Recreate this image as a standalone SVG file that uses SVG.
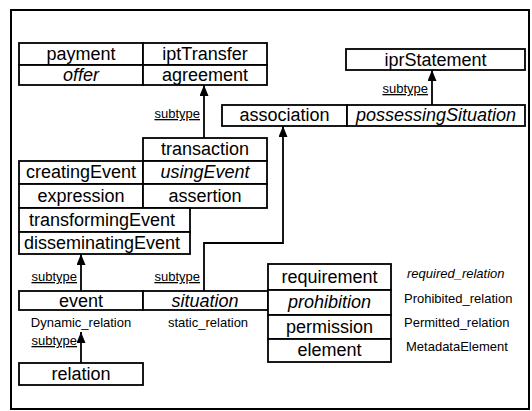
<svg xmlns="http://www.w3.org/2000/svg" width="532" height="411" viewBox="0 0 532 411">
<style>
.c{fill:#fff;stroke:#000;stroke-width:1.8}
.t{font-family:"Liberation Sans",Arial,sans-serif;font-size:18px;text-anchor:middle;fill:#000}
.i{font-style:italic}
.s{font-family:"Liberation Sans",Arial,sans-serif;font-size:13px;fill:#000}
.u{text-decoration:underline}
.l{fill:none;stroke:#000;stroke-width:1.8}
</style>
<defs>
<marker id="ah" markerUnits="userSpaceOnUse" markerWidth="12" markerHeight="10" refX="11" refY="4.5" orient="auto">
<path d="M0,0 L11,4.5 L0,9 z" fill="#000"/>
</marker>
</defs>
<rect x="11" y="10" width="518" height="399" fill="#fff" stroke="#000" stroke-width="2"/>

<g id="payment"><rect class="c" x="19" y="43" width="124" height="22"/><text class="t" x="81" y="60">payment</text></g>
<g id="iptTransfer"><rect class="c" x="143" y="43" width="124" height="22"/><text class="t" x="205" y="60">iptTransfer</text></g>
<g id="offer"><rect class="c" x="19" y="65" width="124" height="20"/><text class="t i" x="81" y="81">offer</text></g>
<g id="agreement"><rect class="c" x="143" y="65" width="124" height="20"/><text class="t" x="205" y="81">agreement</text></g>

<g id="iprStatement"><rect class="c" x="346" y="49" width="179" height="21"/><text class="t" x="435.5" y="66">iprStatement</text></g>
<g id="association"><rect class="c" x="222" y="105" width="125" height="21"/><text class="t" x="284.5" y="121">association</text></g>
<g id="possessingSituation"><rect class="c" x="347" y="105" width="178" height="21"/><text class="t i" x="436" y="121">possessingSituation</text></g>

<g id="transaction"><rect class="c" x="143" y="138" width="124" height="23"/><text class="t" x="205" y="155">transaction</text></g>
<g id="creatingEvent"><rect class="c" x="19" y="161" width="124" height="23"/><text class="t" x="81" y="178">creatingEvent</text></g>
<g id="usingEvent"><rect class="c" x="143" y="161" width="124" height="23"/><text class="t i" x="205" y="178">usingEvent</text></g>
<g id="expression"><rect class="c" x="19" y="184" width="124" height="24"/><text class="t" x="81" y="202">expression</text></g>
<g id="assertion"><rect class="c" x="143" y="184" width="124" height="24"/><text class="t" x="205" y="202">assertion</text></g>
<g id="transformingEvent"><rect class="c" x="19" y="208" width="171" height="24"/><text class="t" x="102" y="226">transformingEvent</text></g>
<g id="disseminatingEvent"><rect class="c" x="19" y="232" width="171" height="22"/><text class="t" x="102" y="249">disseminatingEvent</text></g>

<g id="event"><rect class="c" x="19" y="291" width="124" height="19"/><text class="t" x="81" y="307">event</text></g>
<g id="situation"><rect class="c" x="143" y="291" width="125" height="19"/><text class="t i" x="205" y="307">situation</text></g>
<g id="relation"><rect class="c" x="19" y="363" width="124" height="22"/><text class="t" x="81" y="380">relation</text></g>

<g id="requirement"><rect class="c" x="268" y="264" width="123" height="26"/><text class="t" x="329.5" y="283">requirement</text></g>
<g id="prohibition"><rect class="c" x="268" y="290" width="123" height="25"/><text class="t i" x="329.5" y="308">prohibition</text></g>
<g id="permission"><rect class="c" x="268" y="315" width="123" height="24"/><text class="t" x="329.5" y="333">permission</text></g>
<g id="element"><rect class="c" x="268" y="339" width="123" height="23"/><text class="t" x="329.5" y="356">element</text></g>

<g id="labels">
<text class="s" x="81" y="327" text-anchor="middle">Dynamic_relation</text>
<text class="s" x="208" y="327" text-anchor="middle">static_relation</text>
<text class="s i" x="407" y="278">required_relation</text>
<text class="s" x="404" y="303">Prohibited_relation</text>
<text class="s" x="404" y="327">Permitted_relation</text>
<text class="s" x="406" y="351">MetadataElement</text>
</g>

<g id="connectors">
<path class="l" d="M204,138 V85" marker-end="url(#ah)"/>
<text class="s u" x="200" y="118" text-anchor="end">subtype</text>
<path class="l" d="M432,105 V70" marker-end="url(#ah)"/>
<text class="s u" x="428" y="93" text-anchor="end">subtype</text>
<path class="l" d="M204,291 V243 H283 V126" marker-end="url(#ah)"/>
<text class="s u" x="200" y="281" text-anchor="end">subtype</text>
<path class="l" d="M81,291 V254" marker-end="url(#ah)"/>
<text class="s u" x="77" y="281" text-anchor="end">subtype</text>
<path class="l" d="M81,363 V332" marker-end="url(#ah)"/>
<text class="s u" x="77" y="345" text-anchor="end">subtype</text>
</g>
</svg>
